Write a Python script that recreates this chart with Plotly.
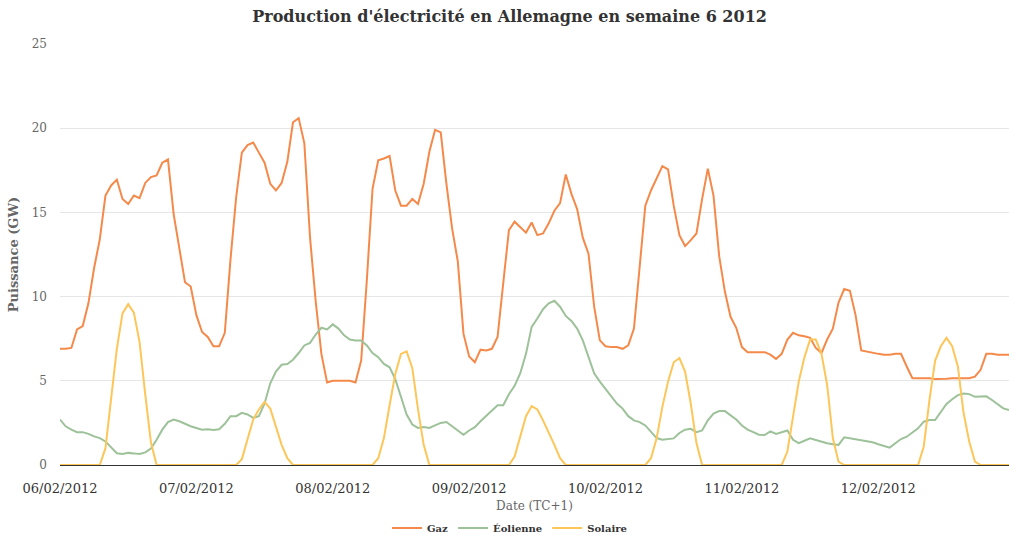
import pandas as pd
import plotly.graph_objects as go

start = "2012-02-06 00:00"
n_hours = 168

gaz = [
    6.9, 6.9, 6.95, 8.05, 8.25, 9.6, 11.7, 13.4, 16.0, 16.6, 16.95, 15.8,
    15.5, 16.0, 15.85, 16.75, 17.1, 17.2, 17.95, 18.15, 14.9, 12.8, 10.85, 10.6,
    8.9, 7.9, 7.6, 7.05, 7.05, 7.85, 12.2, 15.9, 18.55, 19.0, 19.15, 18.55,
    17.95, 16.7, 16.3, 16.75, 18.0, 20.35, 20.6, 19.1, 13.5, 9.7, 6.6, 4.9,
    5.0, 5.0, 5.0, 5.0, 4.9, 6.2, 11.0, 16.4, 18.1, 18.2, 18.35, 16.3,
    15.4, 15.4, 15.8, 15.5, 16.7, 18.6, 19.9, 19.75, 16.7, 14.05, 12.1, 7.8,
    6.45, 6.1, 6.85, 6.8, 6.9, 7.6, 10.8, 13.95, 14.45, 14.15, 13.8, 14.4,
    13.65, 13.75, 14.35, 15.1, 15.55, 17.25, 16.1, 15.2, 13.5, 12.55, 9.4, 7.4,
    7.05, 7.0, 7.0, 6.9, 7.1, 8.1, 11.75, 15.4, 16.3, 17.0, 17.75, 17.55,
    15.4, 13.65, 13.0, 13.35, 13.75, 15.8, 17.6, 16.0, 12.4, 10.3, 8.8, 8.15,
    7.0, 6.7, 6.7, 6.7, 6.7, 6.55, 6.3, 6.6, 7.45, 7.85, 7.7, 7.65,
    7.55, 6.95, 6.65, 7.45, 8.1, 9.65, 10.45, 10.35, 8.9, 6.8, 6.72, 6.65,
    6.6, 6.55, 6.55, 6.6, 6.6, 5.85, 5.15, 5.15, 5.15, 5.15, 5.1, 5.1,
    5.12, 5.15, 5.15, 5.15, 5.15, 5.25, 5.65, 6.6, 6.6, 6.55, 6.55, 6.55,
]

eolienne = [
    2.7, 2.3, 2.1, 1.95, 1.95, 1.85, 1.7, 1.6, 1.4, 1.05, 0.7, 0.65,
    0.72, 0.69, 0.65, 0.75, 0.98, 1.5, 2.1, 2.55, 2.7, 2.6, 2.45, 2.3,
    2.2, 2.1, 2.12, 2.08, 2.12, 2.45, 2.9, 2.9, 3.1, 3.0, 2.8, 2.9,
    3.65, 4.85, 5.55, 5.95, 6.0, 6.25, 6.65, 7.1, 7.25, 7.75, 8.15, 8.05,
    8.35, 8.1, 7.7, 7.45, 7.4, 7.4, 7.1, 6.65, 6.4, 6.0, 5.8, 5.1,
    4.05, 3.0, 2.4, 2.2, 2.25, 2.2, 2.35, 2.5, 2.55, 2.3, 2.0, 1.8,
    2.05, 2.25, 2.6, 2.9, 3.25, 3.55, 3.55, 4.2, 4.7, 5.45, 6.6, 8.2,
    8.7, 9.25, 9.6, 9.75, 9.4, 8.85, 8.55, 8.1, 7.4, 6.4, 5.45, 4.95,
    4.5, 4.05, 3.65, 3.35, 2.9, 2.65, 2.55, 2.35, 2.0, 1.6, 1.5, 1.55,
    1.58, 1.9, 2.1, 2.15, 1.95, 2.05, 2.65, 3.05, 3.2, 3.2, 2.95, 2.7,
    2.35, 2.1, 1.95, 1.8, 1.78, 2.0, 1.85, 1.95, 2.05, 1.5, 1.3, 1.44,
    1.58, 1.48, 1.38, 1.29, 1.23, 1.19, 1.64, 1.58, 1.52, 1.48, 1.44, 1.35,
    1.23, 1.15, 1.03, 1.29, 1.54, 1.68, 1.92, 2.18, 2.57, 2.67, 2.67, 3.16,
    3.62, 3.9, 4.15, 4.25, 4.21, 4.05, 4.05, 4.08, 3.86, 3.6, 3.36, 3.26,
]

solaire = [
    0, 0, 0, 0, 0, 0, 0, 0, 1.0, 4.0, 6.9, 9.0,
    9.55, 9.05, 7.3, 4.2, 1.35, 0, 0, 0, 0, 0, 0, 0,
    0, 0, 0, 0, 0, 0, 0, 0, 0.35, 1.6, 2.7, 3.3,
    3.75, 3.35, 2.3, 1.2, 0.4, 0, 0, 0, 0, 0, 0, 0,
    0, 0, 0, 0, 0, 0, 0, 0, 0.4, 1.6, 3.55, 5.4,
    6.6, 6.75, 5.75, 3.3, 1.2, 0, 0, 0, 0, 0, 0, 0,
    0, 0, 0, 0, 0, 0, 0, 0, 0.5, 1.7, 2.9, 3.5,
    3.3, 2.65, 1.95, 1.2, 0.4, 0, 0, 0, 0, 0, 0, 0,
    0, 0, 0, 0, 0, 0, 0, 0, 0.4, 1.6, 3.45, 4.95,
    6.1, 6.35, 5.55, 3.65, 1.3, 0, 0, 0, 0, 0, 0, 0,
    0, 0, 0, 0, 0, 0, 0, 0, 0.8, 2.75, 4.95, 6.4,
    7.45, 7.45, 6.6, 4.75, 1.6, 0.2, 0, 0, 0, 0, 0, 0,
    0, 0, 0, 0, 0, 0, 0, 0, 1.1, 3.85, 6.2, 7.05,
    7.55, 7.05, 5.85, 3.1, 1.4, 0.2, 0, 0, 0, 0, 0, 0,
]

series_names = ["Gaz", "Éolienne", "Solaire"]
series_colors = ["#f5894a", "#9dc199", "#fdc659"]
y_ticks = [0, 5, 10, 15, 20, 25]

times = pd.date_range(start, periods=n_hours, freq="h")

serif = "DejaVu Serif"
fig = go.Figure()
for name, vals, col in zip(series_names, [gaz, eolienne, solaire], series_colors):
    fig.add_trace(go.Scatter(x=times, y=vals, name=name, mode="lines",
                             line=dict(color=col, width=2)))

fig.update_layout(
    width=1009, height=535,
    paper_bgcolor="white", plot_bgcolor="white",
    margin=dict(l=60, r=0, t=44, b=70, autoexpand=False),
    title=dict(text="<b>Production d'électricité en Allemagne en semaine 6 2012</b>",
               x=0.505, xanchor="center", y=1 - 16 / 535, yanchor="middle",
               yref="container",
               font=dict(family=serif, size=16, color="#333333")),
    legend=dict(orientation="h", xref="container", x=0.505, xanchor="center",
                y=-63 / 421, yanchor="middle",
                font=dict(family=serif, size=10, color="#333333", weight="bold"),
                itemwidth=30),
    font=dict(family=serif),
)
fig.update_xaxes(
    range=[times[0], times[-1]], automargin=False,
    tickformat="%d/%m/%Y", dtick=86400000, tick0=times[0],
    showgrid=False, showline=True, linecolor="#333333", linewidth=1,
    ticks="", ticklabelstandoff=11,
    tickfont=dict(family=serif, size=13, color="#333333"),
    title=dict(text="Date (TC+1)", font=dict(family=serif, size=12, color="#666666"), standoff=7),
)
fig.update_yaxes(
    range=[0, 25], tickvals=y_ticks, automargin=False,
    showgrid=True, gridcolor="#e6e6e6", gridwidth=1, zeroline=False,
    ticklabelstandoff=12,
    tickfont=dict(family=serif, size=12, color="#666666"),
    title=dict(text="<b>Puissance (GW)</b>", font=dict(family=serif, size=13, color="#666666"), standoff=10),
)

fig.write_html("out.html", config={"displayModeBar": False},
               post_script="document.body.style.margin='0px';")
